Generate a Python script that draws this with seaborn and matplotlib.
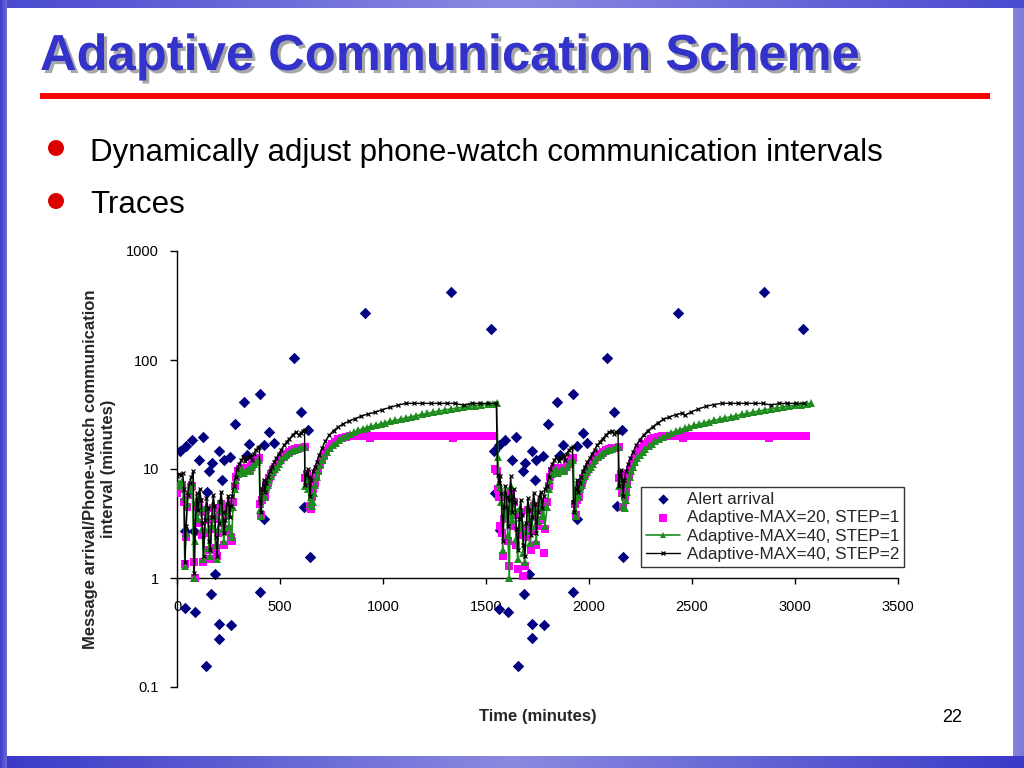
import numpy as np
import pandas as pd
import seaborn as sns
import matplotlib.pyplot as plt
import matplotlib.patheffects as pe
from matplotlib.colors import LinearSegmentedColormap
from matplotlib.patches import Ellipse, Rectangle
from matplotlib.ticker import NullLocator

# alert arrivals (time in minutes, gap in minutes)
alert_time = [15, 44, 75, 125, 107, 39, 84, 157, 171, 204, 217, 228, 257, 144, 282, 327, 338, 350,
              403, 424, 448, 471, 570, 602, 638, 617, 424, 646, 911, 1330, 1523,
              39, 87, 163, 204, 204, 261, 139, 403, 184,
              1539, 1565, 1592, 1646, 1626, 1678, 1690, 1722, 1743, 1775, 1738, 1544, 1568, 1800,
              1845, 1859, 1872, 1924, 1943, 1969, 1989, 2087, 2123, 2162, 2138, 1943, 2167,
              1711, 1683, 1924, 1565, 1608, 1722, 1782, 1655, 1722,
              2430, 2848, 3040]
alert_value = [14.7, 16.3, 18.5, 19.5, 12.1, 2.7, 2.7, 9.6, 11.4, 14.7, 7.9, 12.1, 13, 6.2, 25.7, 41, 13.4, 17,
               48.7, 16.5, 21.7, 17.4, 103.5, 33, 23, 4.5, 3.5, 1.57, 272, 424, 192,
               0.53, 0.49, 0.71, 0.38, 0.276, 0.37, 0.157, 0.75, 1.09,
               14.7, 16.6, 18.4, 19.5, 12.1, 9.6, 11.4, 14.7, 12.1, 13.2, 7.9, 6, 2.75, 25.7,
               41, 13.4, 16.7, 48.7, 16.3, 21.5, 17.2, 103.5, 33, 22.8, 4.6, 3.5, 1.57,
               1.09, 0.71, 0.75, 0.52, 0.49, 0.38, 0.37, 0.157, 0.28,
               272, 421, 192]

# Adaptive-MAX=20, STEP=1
max20_time = [0, 8, 16, 24, 32, 38, 43, 50, 58, 66, 74, 82, 87, 92, 100, 108, 115, 122, 128, 135,
              142, 149, 155, 161, 168, 175, 181, 187, 194, 201, 208, 214, 220, 227, 234, 241, 248, 254, 260, 266,
              272, 280, 288, 297, 306, 316, 326, 336, 346, 356, 366, 376, 387, 398, 404, 409, 414, 420, 427, 433,
              440, 448, 456, 465, 474, 484, 495, 506, 518, 531, 545, 559, 574, 589, 604, 619, 622, 629, 637, 644,
              650, 656, 662, 668, 675, 683, 692, 702, 713, 725, 738, 752, 767, 783, 800, 818, 838,
              858, 878, 898, 918, 938, 958, 978, 998, 1018, 1038, 1058, 1078, 1098, 1118, 1138, 1158, 1178,
              1198, 1218, 1238, 1258, 1278, 1298, 1318, 1338, 1358, 1378, 1398, 1418, 1438, 1458, 1478, 1498,
              1518, 1538,
              1545, 1552, 1558, 1564, 1570, 1576, 1582, 1588, 1594, 1600, 1607, 1613, 1620, 1627, 1634, 1641,
              1648, 1655, 1662, 1668, 1675, 1682, 1689, 1696, 1703, 1710, 1717, 1724, 1731, 1738, 1745, 1752,
              1759, 1766, 1773, 1780, 1787,
              1797, 1805, 1813, 1822, 1831, 1841, 1851, 1861, 1871, 1881, 1891, 1902, 1913, 1924, 1930, 1935,
              1940, 1946, 1952, 1958, 1965, 1973, 1981, 1990, 1999, 2009, 2020, 2031, 2043, 2056, 2070, 2084,
              2099, 2114, 2129, 2144, 2147, 2154, 2161, 2167, 2173, 2179, 2185, 2192, 2200, 2209, 2219, 2230,
              2242, 2255, 2269, 2284, 2300, 2317, 2335, 2354, 2374,
              2394, 2414, 2434, 2454, 2474, 2494, 2514, 2534, 2554, 2574, 2594, 2614, 2634, 2654, 2674, 2694,
              2714, 2734, 2754, 2774, 2794, 2814, 2834, 2854, 2874, 2894, 2914, 2934, 2954, 2974, 2994, 3014,
              3034, 3054]
max20_value = [6.0, 7.0, 6.5, 7.2, 5.0, 1.35, 2.4, 4.5, 5.8, 6.8, 7.0, 1.4, 1.0, 4.5, 3.2, 5.0, 4.0, 2.5, 1.4, 2.6,
               4.2, 3.4, 1.8, 1.5, 2.8, 4.4, 3.5, 1.9, 1.6, 2.6, 4.0, 4.8, 3.2, 2.0, 2.7, 3.8, 4.4, 2.8, 2.4, 2.2,
               5.0, 7.0, 8.5, 9.5, 10.0, 10.2, 9.5, 9.8, 10.3, 9.8, 10.8, 11.5, 12.0, 12.5, 4.8, 3.8, 5.2, 6.3, 5.5, 6.8,
               7.5, 8.3, 9.0, 9.8, 10.5, 11.0, 11.8, 12.5, 13.2, 13.8, 14.3, 14.8, 15.2, 15.5, 15.7, 15.8, 8.2, 9.0, 7.0, 4.6,
               4.3, 5.5, 6.5, 7.5, 8.6, 9.8, 11.0, 12.2, 13.4, 14.6, 15.7, 16.8, 17.8, 18.7, 19.4, 19.8, 20.0,
               20, 20, 20, 20, 19.3, 20, 20, 20, 20, 20, 20, 20, 20, 20, 20, 20, 20,
               20, 20, 20, 20, 20, 20, 20, 19.3, 20, 20, 20, 20, 20, 20, 20, 20,
               20, 20,
               10.0, 9.5, 6.5, 5.5, 3.0, 2.6, 1.6, 3.5, 5.5, 4.2, 2.2, 1.3, 6.0, 3.0, 5.0, 3.8,
               2.0, 1.2, 2.5, 4.0, 2.8, 1.05, 1.3, 2.4, 4.2, 3.0, 1.8, 2.7, 4.6, 3.6, 2.0, 3.0,
               4.2, 4.8, 3.4, 1.7, 2.8,
               5.0, 7.0, 8.5, 9.5, 10.0, 10.2, 9.5, 9.8, 10.3, 9.8, 10.8, 11.5, 12.0, 12.5, 4.8, 3.8,
               5.2, 6.3, 5.5, 6.8, 7.5, 8.3, 9.0, 9.8, 10.5, 11.0, 11.8, 12.5, 13.2, 13.8, 14.3, 14.8,
               15.2, 15.5, 15.7, 15.8, 8.2, 9.0, 6.0, 4.5, 5.5, 6.5, 7.5, 8.6, 9.8, 11.0, 12.2, 13.4,
               14.6, 15.7, 16.8, 17.8, 18.7, 19.4, 19.8, 20.0, 20.0,
               20, 20, 20, 19.3, 20, 20, 20, 20, 20, 20, 20, 20, 20, 20, 20, 20,
               20, 20, 20, 20, 20, 20, 20, 20, 19.3, 20, 20, 20, 20, 20, 20, 20,
               20, 20]

# Adaptive-MAX=40, STEP=1
max40s1_time = [0, 8, 16, 24, 32, 38, 43, 50, 58, 66, 74, 82, 86, 92, 100, 108, 115, 122, 128, 135,
                142, 149, 155, 161, 168, 175, 181, 187, 194, 201, 208, 214, 220, 227, 234, 241, 248, 254, 260, 266,
                272, 280, 288, 297, 306, 316, 326, 336, 346, 356, 366, 376, 387, 398, 404, 409, 414, 420, 427, 433,
                440, 448, 456, 465, 474, 484, 495, 506, 518, 531, 545, 559, 574, 589, 604, 619, 622, 629, 637, 644,
                649, 655,
                660, 665, 671, 678, 686, 695, 705, 716, 728, 741, 755, 770, 786, 803, 821, 840, 860, 880, 901, 922,
                944, 966, 989, 1012, 1036, 1060, 1085, 1110, 1136, 1162, 1189, 1216, 1244, 1272, 1300, 1329, 1358,
                1388, 1418, 1448, 1478, 1508, 1535, 1552,
                1558, 1563, 1569, 1575, 1581, 1587, 1593, 1599, 1606, 1613, 1619, 1626, 1633, 1640, 1647, 1654,
                1661, 1667, 1674, 1681, 1688, 1695, 1702, 1709, 1716, 1723, 1730, 1737, 1744, 1751, 1758, 1765,
                1772, 1779, 1786,
                1797, 1805, 1813, 1822, 1831, 1841, 1851, 1861, 1871, 1881, 1891, 1902, 1913, 1924, 1930, 1935,
                1940, 1946, 1952, 1958, 1965, 1973, 1981, 1990, 1999, 2009, 2020, 2031, 2043, 2056, 2070, 2084,
                2099, 2114, 2129, 2144, 2147, 2154, 2161, 2167, 2173,
                2178, 2184, 2190, 2197, 2205, 2214, 2224, 2235, 2247, 2260, 2274, 2289, 2305, 2322, 2340, 2359,
                2379, 2399, 2420, 2442, 2464, 2487, 2510, 2534, 2558, 2583, 2608, 2634, 2660, 2687, 2714, 2741,
                2769, 2797, 2825, 2853, 2882, 2911, 2941, 2971, 3001, 3031, 3056, 3080]
max40s1_value = [7.0, 7.5, 7.2, 7.8, 5.5, 1.3, 2.6, 4.8, 6.3, 7.0, 7.5, 1.0, 2.2, 5.0, 3.5, 5.5, 4.4, 2.8, 1.5, 2.8,
                 4.5, 3.7, 1.9, 1.6, 3.0, 4.8, 3.8, 2.0, 1.5, 2.8, 4.2, 5.2, 3.4, 2.2, 2.9, 4.0, 4.7, 3.0, 2.6, 2.4,
                 4.5, 6.5, 8.0, 9.0, 9.5, 10.0, 9.2, 9.5, 10.0, 9.5, 10.5, 11.0, 11.5, 12.0, 4.2, 3.7, 5.5, 6.5, 5.5, 6.5,
                 7.2, 8.0, 8.6, 9.3, 10.0, 10.5, 11.2, 12.0, 12.8, 13.5, 14.0, 14.5, 15.0, 15.4, 15.8, 16.0, 7.0, 8.0, 6.5, 4.8,
                 5.5, 4.6,
                 5.0, 6.0, 7.2, 8.4, 9.6, 10.8, 12.0, 13.2, 14.4, 15.5, 16.5, 17.4, 18.3, 19.2, 20.2, 21.0, 21.8, 22.6, 23.3, 24.0,
                 24.7, 25.3, 26.0, 26.6, 27.3, 28.0, 28.7, 29.4, 30.2, 30.9, 31.7, 32.4, 33.2, 34.0, 34.8, 35.5, 36.3,
                 37.0, 37.6, 38.2, 38.8, 39.3, 39.7, 40.0,
                 13.0, 7.5, 6.8, 5.0, 1.8, 3.8, 6.0, 4.6, 2.5, 1.0, 7.0, 3.4, 5.5, 4.2, 2.3, 1.5,
                 2.9, 4.4, 3.2, 1.7, 1.4, 2.7, 4.5, 3.5, 2.1, 3.0, 5.0, 4.0, 2.2, 3.3, 4.6, 5.2,
                 3.7, 4.5, 3.0,
                 4.5, 6.5, 8.0, 9.0, 9.5, 10.0, 9.2, 9.5, 10.0, 9.5, 10.5, 11.0, 11.5, 12.0, 4.2, 3.7,
                 5.5, 6.5, 5.5, 6.5, 7.2, 8.0, 8.6, 9.3, 10.0, 10.5, 11.2, 12.0, 12.8, 13.5, 14.0, 14.5,
                 15.0, 15.4, 15.8, 16.0, 7.0, 8.0, 6.0, 4.6, 4.4,
                 5.2, 6.2, 7.3, 8.4, 9.5, 10.5, 11.5, 12.5, 13.4, 14.3, 15.2, 16.1, 17.0, 17.9, 18.8, 19.7,
                 20.6, 21.4, 22.2, 23.0, 23.7, 24.4, 25.1, 25.8, 26.5, 27.2, 28.0, 28.7, 29.4, 30.1, 30.9, 31.7,
                 32.4, 33.2, 34.0, 34.8, 35.6, 36.3, 37.0, 37.7, 38.4, 39.0, 39.5, 40.0]

# Adaptive-MAX=40, STEP=2
max40s2_time = [0, 9, 18, 27, 35, 39, 44, 52, 61, 70, 79, 84, 88, 95, 103, 110, 117, 123, 129, 136,
                143, 150, 156, 162, 169, 176, 182, 188, 195, 202, 209, 215, 221, 228, 235, 242, 249, 255, 261, 267,
                275, 284, 293, 302, 312, 322, 332, 342, 352, 362, 372, 382, 392, 400, 403, 408, 414, 420, 427, 434,
                442, 451, 461, 471, 482, 494, 506, 519, 532, 546, 561, 576, 591, 601, 611, 619, 621, 627, 634, 640,
                646, 652, 660, 669, 679, 691, 704, 720, 739, 760, 783, 808, 835, 864, 895, 927, 960, 995, 1032, 1071,
                1111, 1151, 1191, 1231, 1271, 1311, 1351, 1391, 1430, 1470, 1510, 1550,
                1556, 1562, 1568, 1575, 1582, 1588, 1594, 1600, 1607, 1613, 1620, 1627, 1634, 1641, 1648, 1655,
                1662, 1668, 1675, 1682, 1689, 1696, 1703, 1710, 1717, 1724, 1731, 1738, 1745, 1752, 1759, 1766,
                1773, 1780, 1787,
                1795, 1804, 1813, 1822, 1832, 1842, 1852, 1862, 1872, 1882, 1892, 1902, 1912, 1920, 1924, 1929,
                1935, 1941, 1948, 1955, 1963, 1972, 1982, 1992, 2003, 2015, 2027, 2040, 2053, 2067, 2082, 2097,
                2110, 2121, 2131, 2141, 2144, 2150, 2156, 2161, 2166, 2172, 2180, 2190, 2201, 2214, 2229, 2246,
                2265, 2286, 2309, 2334, 2361, 2390, 2420, 2452, 2466, 2497, 2531, 2567, 2605, 2644, 2684, 2724,
                2764, 2804, 2844, 2884, 2923, 2963, 3003, 3043]
max40s2_value = [8.6, 9.0, 8.8, 9.2, 6.5, 1.4, 3.0, 5.8, 7.5, 8.4, 9.5, 1.1, 2.6, 6.0, 4.2, 6.6, 5.2, 3.2, 1.6, 3.4,
                 5.4, 4.4, 2.2, 1.8, 3.6, 5.8, 4.6, 2.4, 1.6, 3.2, 5.0, 6.2, 4.0, 2.6, 3.4, 4.8, 5.6, 3.6, 4.6, 5.6,
                 7.0, 8.5, 10.0, 11.0, 12.0, 12.8, 11.8, 12.5, 13.5, 12.2, 13.8, 15.0, 15.5, 16.0, 5.0, 4.0, 6.5, 8.0, 6.2, 7.5,
                 8.5, 9.5, 10.5, 11.5, 12.5, 13.8, 15.0, 16.5, 17.8, 19.0, 20.5, 21.8, 20.5, 21.5, 22.5, 23.0, 7.2, 8.8, 10.0, 8.5,
                 5.6, 8.0, 9.5, 10.5, 11.7, 13.5, 15.5, 18.0, 20.5, 22.5, 24.4, 26.0, 27.5, 29.0, 30.5, 32.0, 33.0, 35.0, 36.7, 38.5,
                 40, 40, 40, 40, 40, 40, 40, 38.5, 40, 40, 40, 40,
                 8.8, 7.5, 8.6, 6.0, 2.2, 4.5, 7.0, 5.5, 3.0, 5.2, 8.6, 4.0, 6.5, 5.0, 2.8, 1.8,
                 3.5, 5.2, 3.8, 2.0, 1.6, 3.2, 5.4, 4.2, 2.5, 3.6, 6.0, 4.8, 2.6, 4.0, 5.5, 6.2,
                 4.4, 5.6, 6.5,
                 7.0, 8.5, 10.0, 11.0, 12.0, 12.8, 11.8, 12.5, 13.5, 12.2, 13.8, 15.0, 15.5, 16.0, 5.0, 4.0,
                 6.5, 8.0, 6.2, 7.5, 8.5, 9.5, 10.5, 11.5, 12.5, 13.8, 15.0, 16.5, 17.8, 19.0, 20.5, 21.8,
                 22.4, 21.0, 21.8, 22.0, 7.0, 8.6, 9.8, 8.0, 5.6, 8.0, 9.5, 11.0, 12.5, 14.4, 16.5, 18.5,
                 20.5, 22.5, 24.4, 26.5, 28.5, 30.0, 31.5, 32.5, 31.0, 33.5, 35.5, 37.5, 39.0, 40, 40, 40,
                 40, 40, 40, 38.5, 40, 40, 40, 40]

x_ticks = [0, 500, 1000, 1500, 2000, 2500, 3000, 3500]
y_ticks = [0.1, 1, 10, 100, 1000]
y_tick_labels = ["0.1", "1", "10", "100", "1000"]

alerts = pd.DataFrame({"time": alert_time, "interval": alert_value})
max20 = pd.DataFrame({"time": max20_time, "interval": max20_value})
max40s1 = pd.DataFrame({"time": max40s1_time, "interval": max40s1_value})
max40s2 = pd.DataFrame({"time": max40s2_time, "interval": max40s2_value})

sns.set_style("white")
plt.rcParams["font.family"] = ["Liberation Sans", "DejaVu Sans"]

fig = plt.figure(figsize=(10.24, 7.68), dpi=100)
fig.patch.set_facecolor("white")


# slide frame bands
def band(rect, colors):
    bax = fig.add_axes(rect)
    cmap = LinearSegmentedColormap.from_list("b", colors)
    grad = np.linspace(0, 1, 256).reshape(1, -1)
    bax.imshow(grad, aspect="auto", cmap=cmap, extent=(0, 1, 0, 1))
    bax.set_axis_off()


band([0, 1 - 8 / 768, 1, 8 / 768], ["#4a4ad0", "#8a8ae2", "#4a4ad0"])
band([0, 0, 1, 12 / 768], ["#3a3ac8", "#8a8ae0", "#3a3ac8"])
band([0, 0, 7 / 1024, 1], ["#3c3cc8", "#6a6ad8"])
band([1013 / 1024, 12 / 768, 11 / 1024, 1 - 20 / 768], ["#8585df", "#7a7adb"])

# title, rule, bullets
fig.text(40 / 1024, 1 - 70 / 768, "Adaptive Communication Scheme", fontsize=36.5, fontweight="bold",
         color="#3333cc", va="baseline", ha="left",
         path_effects=[pe.SimplePatchShadow(offset=(2.2, -2.2), shadow_rgbFace="#a8a8a8", alpha=1), pe.Normal()])
fig.add_artist(Rectangle((40 / 1024, 1 - 99 / 768), 950 / 1024, 6 / 768, transform=fig.transFigure,
                         color="#ff0000", lw=0))
for yb in (148, 201):
    fig.add_artist(Ellipse((56 / 1024, 1 - yb / 768), 16 / 1024, 16 / 768, transform=fig.transFigure,
                           color="#dd0000", lw=0))
fig.text(90 / 1024, 1 - 161 / 768, "Dynamically adjust phone-watch communication intervals", fontsize=22.5,
         va="baseline", ha="left", color="black")
fig.text(90 / 1024, 1 - 213 / 768, "Traces", fontsize=22.5, va="baseline", ha="left", color="black")
fig.text(962 / 1024, 1 - 717 / 768, "22", fontsize=13, va="center", ha="right", color="black")

# chart
ax = fig.add_axes([177 / 1024, 1 - 687 / 768, 721 / 1024, 436 / 768])
ax.set_yscale("log")

sns.scatterplot(data=alerts, x="time", y="interval", marker="D", s=34, color="#000080", linewidth=0,
                label="Alert arrival", ax=ax, zorder=2)
sns.scatterplot(data=max20, x="time", y="interval", marker="s", s=40, color="#ff00ff", linewidth=0,
                label="Adaptive-MAX=20, STEP=1", ax=ax, zorder=3)
sns.lineplot(data=max40s1, x="time", y="interval", estimator=None, sort=False, color="#1e8c1e", lw=1.2,
             marker="^", markersize=5.5, markeredgewidth=0, label="Adaptive-MAX=40, STEP=1", ax=ax, zorder=4)
sns.lineplot(data=max40s2, x="time", y="interval", estimator=None, sort=False, color="black", lw=1.0,
             marker="x", markersize=3, markeredgewidth=0.9, markeredgecolor="black",
             label="Adaptive-MAX=40, STEP=2", ax=ax, zorder=5)

ax.set_xlim(0, 3500)
ax.set_ylim(0.1, 1000)
ax.set_xticks(x_ticks)
ax.set_xticklabels([str(v) for v in x_ticks])
ax.set_yticks(y_ticks)
ax.set_yticklabels(y_tick_labels)
ax.yaxis.set_minor_locator(NullLocator())
ax.tick_params(axis="both", labelsize=10.5, colors="black")
ax.tick_params(axis="y", direction="out", length=5, width=1, left=True, pad=8)
ax.tick_params(axis="x", direction="out", length=4, width=1, bottom=True, pad=12)
ax.spines["top"].set_visible(False)
ax.spines["right"].set_visible(False)
ax.spines["bottom"].set_position(("data", 1))
for s in ("left", "bottom"):
    ax.spines[s].set_color("black")
    ax.spines[s].set_linewidth(1)
ax.set_facecolor("none")

ax.set_xlabel("Time (minutes)", fontsize=12, fontweight="bold")
ax.xaxis.set_label_coords(0.5, -0.05)
ax.set_ylabel("Message arrival/Phone-watch communication\ninterval (minutes)", fontsize=12,
              fontweight="bold", linespacing=1.25)
ax.yaxis.set_label_coords(-0.085, 0.5)

leg = ax.legend(loc="lower left", bbox_to_anchor=(0.643, 0.275), borderaxespad=0, frameon=True,
                fancybox=False, edgecolor="black", fontsize=12.3, handlelength=2.0, handletextpad=0.4,
                labelspacing=0.2, borderpad=0.3, markerscale=0.9)
leg.get_frame().set_linewidth(1)

fig.savefig("out.png", dpi=100, facecolor="white")
